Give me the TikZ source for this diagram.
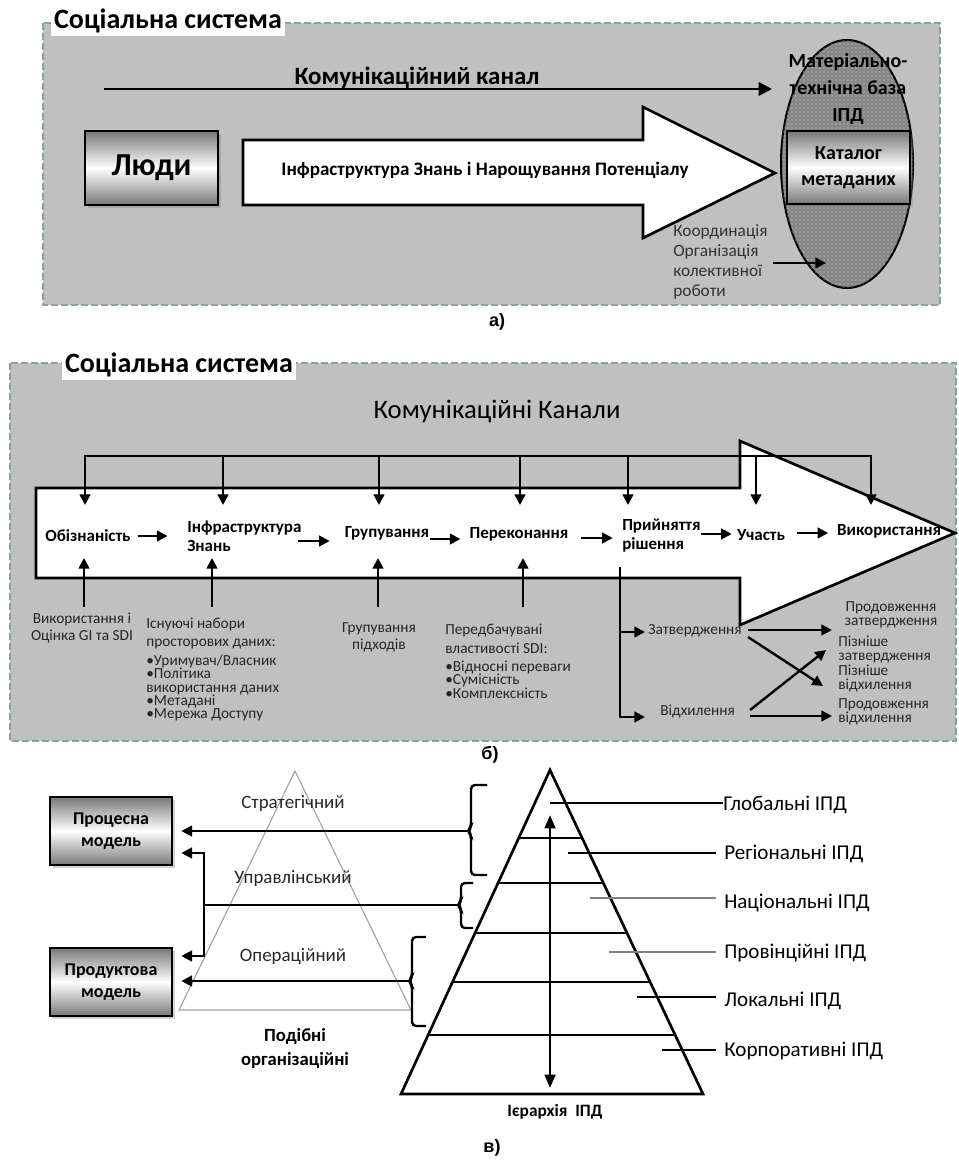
\documentclass[tikz,border=0pt]{standalone}
\usepackage{fontspec}
\setmainfont{Carlito}
\newfontfamily\arialf{Liberation Sans}
\usetikzlibrary{arrows.meta,shadows,calc,shapes.geometric,patterns}

\definecolor{panelgray}{RGB}{192,192,192}
\definecolor{framec}{RGB}{135,162,162}
\definecolor{ovalgray}{RGB}{135,135,135}
\definecolor{boxgray}{RGB}{120,120,120}

\tikzset{
  frame/.style={draw=framec, fill=panelgray, line width=2pt, dash pattern=on 5pt off 2.5pt},
  titlebox/.style={fill=white, inner sep=2pt, font=\fontsize{21}{25}\selectfont\bfseries},
  shbox/.style={draw=black, line width=2pt, top color=boxgray, bottom color=boxgray,
    middle color=white, drop shadow={shadow xshift=2pt, shadow yshift=-2pt, opacity=0.35},
    align=center, inner sep=0pt},
  bigarrow/.style={fill=white, draw=black, line width=2pt},
  arr/.style={line width=1.9pt, -{Triangle[length=10pt,width=10pt]}},
  sarr/.style={line width=1.8pt, -{Triangle[length=8pt,width=8pt]}},
  plain/.style={line width=1.8pt, line cap=rect},
  stage/.style={font=\fontsize{12.75}{14.25}\selectfont\bfseries, inner sep=0pt, align=left},
  note/.style={font=\fontsize{11.5}{12.75}\selectfont, text=black!85, inner sep=0pt},
  side/.style={font=\fontsize{11.5}{10.5}\selectfont, text=black!85, inner sep=0pt},
  lvl/.style={font=\fontsize{14.2}{17}\selectfont, text=black!85, inner sep=0pt},
  sdi/.style={font=\fontsize{15.8}{19}\selectfont, inner sep=0pt, anchor=west},
  leader/.style={line width=0.8pt},
  brk/.style={line width=1.8pt, rounded corners=3pt},
  caption/.style={font=\arialf\bfseries\fontsize{13.5}{16}\selectfont, inner sep=0pt}
}

\begin{document}
\begin{tikzpicture}[x=0.75pt, y=-0.75pt]
\useasboundingbox (0,0) rectangle (958,1160);

% ---------------- panel a ----------------
\draw[frame] (43,23) rectangle (940,305);
\node[titlebox] (tA) at (168,21) {Соціальна система};
\node[font=\fontsize{18.7}{22}\selectfont\bfseries, inner sep=0pt] (kkA) at (417,78) {Комунікаційний канал};
\coordinate (kA1) at (104,89);
\coordinate (kA2) at (772,89);
\draw[arr] (kA1) -- (kA2);

\node[ellipse, draw=black, line width=1.5pt, fill=ovalgray,
      postaction={pattern=dots, pattern color=white!70!ovalgray},
      minimum width=99pt, minimum height=186pt, inner sep=0pt] (mtb) at (847,164) {};
\node[font=\fontsize{15}{20}\selectfont\bfseries, align=center, inner sep=0pt] (mtbT) at (848,89)
  {Матеріально-\\технічна база\\ІПД};

\filldraw[bigarrow] (243,140) -- (643,140) -- (643,107) -- (775,173) -- (643,238)
  -- (643,205) -- (243,205) -- cycle;
\node[font=\fontsize{14.3}{17}\selectfont\bfseries, inner sep=0pt] (ifr) at (485,170)
  {Інфраструктура Знань і Нарощування Потенціалу};

\node[shbox, minimum width=99.75pt, minimum height=55.5pt,
      font=\fontsize{24}{28}\selectfont\bfseries] (ljudy) at (151.5,168) {Люди};
\node[shbox, minimum width=92.25pt, minimum height=54.75pt,
      font=\fontsize{15}{19.5}\selectfont\bfseries] (kat) at (848.5,167.5) {Каталог\\метаданих};

\node[font=\fontsize{13}{15}\selectfont, text=black!80, align=left, inner sep=0pt, anchor=west]
  (koord) at (673,262) {Координація\\Організація\\колективної\\роботи};
\coordinate (kc1) at (773,263);
\coordinate (kc2) at (826,263);
\draw[sarr] (kc1) -- (kc2);

\node[caption] (capA) at (497,322) {а)};

% ---------------- panel b ----------------
\draw[frame] (10,363) rectangle (956,741);
\node[titlebox] (tB) at (179,365) {Соціальна система};
\node[font=\fontsize{20}{24}\selectfont, inner sep=0pt] (kkB) at (497,412) {Комунікаційні Канали};

\filldraw[bigarrow] (36,488) -- (740,488) -- (740,441) -- (955,533) -- (740,625)
  -- (740,578) -- (36,578) -- cycle;

% channel bus with drops
\draw[plain] (85,456) -- (871,456);
\foreach \x in {85,223,379,520,628,756,871}
  \draw[sarr] (\x,456) -- (\x,505);

% stages
\node[stage] (obz) at (88,536) {Обізнаність};
\node[stage, anchor=west] (infz) at (187,536) {Інфраструктура\\Знань};
\node[stage] (grup) at (387,533) {Групування};
\node[stage] (per) at (519,534) {Переконання};
\node[stage, anchor=west] (prin) at (622,536) {Прийняття\\рішення};
\node[stage] (uch) at (761,535) {Участь};
\node[stage] (vyk) at (889,531) {Використання};

\draw[sarr] ([xshift=5pt]obz.east) -- ++(30,0);
\draw[sarr] ([xshift=-3pt,yshift=-3.75pt]infz.east) -- ++(32,0);
\draw[sarr] ([xshift=0.75pt,yshift=-4.5pt]grup.east) -- ++(30,0);
\draw[sarr] ([xshift=9pt,yshift=-3pt]per.east) -- ++(32,0);
\draw[sarr] ([xshift=0pt,yshift=1.5pt]prin.east) -- ++(31,0);
\draw[sarr] ([xshift=9pt,yshift=1.5pt]uch.east) -- ++(31,0);

% inputs from below
\foreach \x in {84,212,378,523}
  \draw[sarr] (\x,607) -- (\x,558);

\node[note, align=center] (in1) at (82,628) {Використання і\\Оцінка GI та SDI};
\node[note, align=left, anchor=north west, font=\fontsize{11.5}{10}\selectfont] (in2) at (146,618)
  {Існуючі набори\\[3.5pt]просторових даних:\\[4pt]•Уримувач/Власник\\•Політика\\використання даних\\•Метадані\\•Мережа Доступу};
\node[note, align=center] (in3) at (379,637) {Групування\\підходів};
\node[note, align=left, anchor=north west, font=\fontsize{11.5}{10}\selectfont] (in4) at (445,624)
  {Передбачувані\\[4pt]властивості SDI:\\[3.5pt]•Відносні переваги\\•Сумісність\\•Комплексність};

% decision branch
\node[note, anchor=west] (zat) at (648,631) {Затвердження};
\node[note, anchor=west] (vid) at (660,711) {Відхилення};
\coordinate (db) at (620,567);
\coordinate (dz) at (620,632);
\draw[sarr] (db) -- (620,717) -- (645,717);
\draw[sarr] (dz) -- (645,632);

\node[side, align=center] (pz) at (891,615) {Продовження\\затвердження};
\node[side, align=left, anchor=west] (pizz) at (838,649) {Пізніше\\затвердження};
\node[side, align=left, anchor=west] (pizv) at (838,678) {Пізніше\\відхилення};
\node[side, align=left, anchor=west] (pv) at (838,712) {Продовження\\відхилення};

\draw[sarr] (748,630) -- (832,630);
\draw[sarr] (748,637) -- (823,686);
\draw[sarr] (750,710) -- (826,650);
\draw[sarr] (750,716) -- (832,716);

\node[caption] (capB) at (490,755) {б)};

% ---------------- panel c ----------------
% organisational triangle
\draw[gray!75, line width=0.8pt] (295,771) -- (411,1010) -- (179,1010) -- cycle;
\node[lvl] (str) at (293,804) {Стратегічний};
\node[lvl] (upr) at (293,879) {Управлінський};
\node[lvl] (opr) at (293,957) {Операційний};
\node[font=\fontsize{14}{18}\selectfont\bfseries, align=center, inner sep=0pt] (pod) at (295,1048)
  {Подібні\\організаційні};

\node[shbox, minimum width=91.5pt, minimum height=51pt,
      font=\fontsize{13.5}{17}\selectfont\bfseries] (pm) at (111,831) {Процесна\\модель};
\node[shbox, minimum width=91.5pt, minimum height=51pt,
      font=\fontsize{13.5}{17}\selectfont\bfseries] (prm) at (111,982) {Продуктова\\модель};

% brackets grouping the hierarchy levels
\coordinate (b1) at (468,831);
\coordinate (b2) at (458,905);
\coordinate (b3) at (409,981);
\draw[brk] (487,785) -- (471,785) -- (471,827) -- (b1) -- (471,835) -- (471,875) -- (487,875);
\draw[brk] (473,883) -- (461,883) -- (461,901) -- (b2) -- (461,909) -- (461,928) -- (473,928);
\draw[brk] (426,937) -- (412,937) -- (412,977) -- (b3) -- (412,985) -- (412,1026) -- (426,1026);
\coordinate (mj) at (204,905);

\draw[sarr, shorten >=6pt] (b1) -- (pm.east |- b1);
\draw[plain] (b2) -- (mj);
\draw[sarr, shorten >=6pt] (mj) |- (pm.east |- 0,853);
\draw[sarr, shorten >=6pt] (mj) |- (prm.east |- 0,956);
\draw[sarr, shorten >=6pt] (b3) -- (prm.east |- b3);

% SDI hierarchy pyramid
\coordinate (ap) at (550,770);
\coordinate (bl) at (401,1094);
\coordinate (br) at (703,1094);
\draw[line width=2pt] (ap) -- (br) -- (bl) -- cycle;
\foreach \t in {0.2099,0.3488,0.5031,0.6543,0.8179}
  \draw[line width=2pt] ($(ap)!\t!(bl)$) -- ($(ap)!\t!(br)$);
\draw[line width=2pt, {Triangle[length=10pt,width=8pt]}-{Triangle[length=10pt,width=8pt]}]
  (550,815) -- (550,1088);

\node[sdi] (gl) at (723,805) {Глобальні ІПД};
\node[sdi] (rg) at (724,854) {Регіональні ІПД};
\node[sdi] (nc) at (724,903) {Національні ІПД};
\node[sdi] (pr) at (724,953) {Провінційні ІПД};
\node[sdi] (lc) at (724,1001) {Локальні ІПД};
\node[sdi] (kp) at (724,1051) {Корпоративні ІПД};

\draw[leader] (550,803) -- (gl.west |- 0,803);
\draw[leader] (568,853) -- (716,853);
\draw[leader, gray] (590,898) -- (716,898);
\draw[leader, gray] (609,952) -- (716,952);
\draw[leader] (637,997) -- (716,997);
\draw[leader] (662,1050) -- (716,1050);

\node[font=\fontsize{13}{16}\selectfont\bfseries, inner sep=0pt] (ier) at (555,1112) {Ієрархія\ \ ІПД};

\node[caption] (capC) at (492,1148) {в)};
\end{tikzpicture}
\end{document}
